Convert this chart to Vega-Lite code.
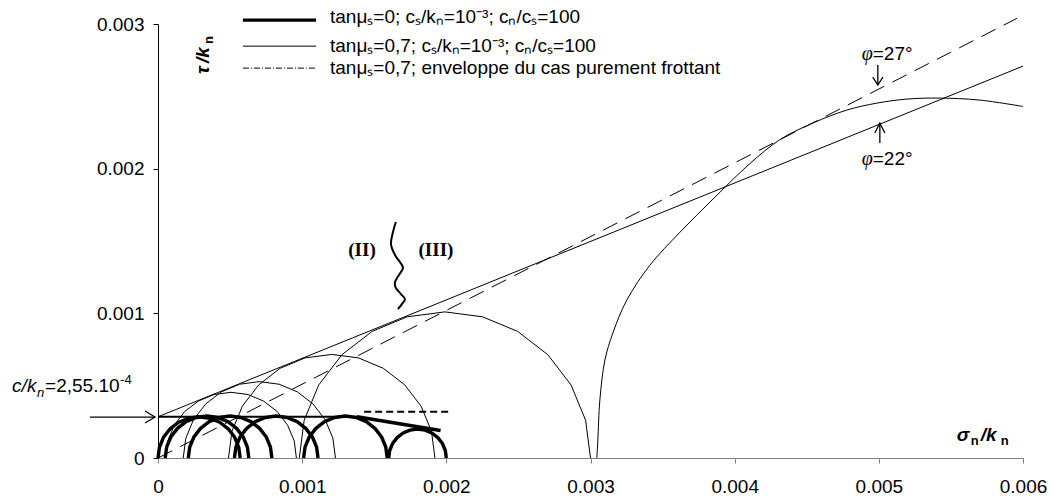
{
"$schema": "https://vega.github.io/schema/vega-lite/v6.json",
"width": 865, "height": 434,
"autosize": {"type": "none"},
"padding": {"left": 158, "top": 24, "right": 33, "bottom": 39},
"background": "white",
"config": {"view": {"stroke": null}, "font": "Liberation Sans",
  "axis": {"grid": false, "labelFont": "Liberation Sans", "labelFontSize": 19, "labelColor": "#000", "labelFlush": false, "labelOverlap": false}},
"datasets": {
"thick": [
{"s":"T1","i":0,"x":0,"y":0},{"s":"T1","i":1,"x":0.10e-4,"y":0.74e-4},{"s":"T1","i":2,"x":0.38e-4,"y":1.43e-4},{"s":"T1","i":3,"x":0.84e-4,"y":2.02e-4},{"s":"T1","i":4,"x":1.43e-4,"y":2.47e-4},{"s":"T1","i":5,"x":2.11e-4,"y":2.75e-4},{"s":"T1","i":6,"x":2.85e-4,"y":2.85e-4},{"s":"T1","i":7,"x":3.59e-4,"y":2.75e-4},{"s":"T1","i":8,"x":4.28e-4,"y":2.47e-4},{"s":"T1","i":9,"x":4.87e-4,"y":2.02e-4},{"s":"T1","i":10,"x":5.32e-4,"y":1.43e-4},{"s":"T1","i":11,"x":5.60e-4,"y":0.74e-4},{"s":"T1","i":12,"x":5.70e-4,"y":0},
{"s":"T2","i":0,"x":0.5e-4,"y":0},{"s":"T2","i":1,"x":0.60e-4,"y":0.75e-4},{"s":"T2","i":2,"x":0.89e-4,"y":1.45e-4},{"s":"T2","i":3,"x":1.35e-4,"y":2.05e-4},{"s":"T2","i":4,"x":1.95e-4,"y":2.51e-4},{"s":"T2","i":5,"x":2.65e-4,"y":2.80e-4},{"s":"T2","i":6,"x":3.4e-4,"y":2.9e-4},{"s":"T2","i":7,"x":4.15e-4,"y":2.80e-4},{"s":"T2","i":8,"x":4.85e-4,"y":2.51e-4},{"s":"T2","i":9,"x":5.45e-4,"y":2.05e-4},{"s":"T2","i":10,"x":5.91e-4,"y":1.45e-4},{"s":"T2","i":11,"x":6.20e-4,"y":0.75e-4},{"s":"T2","i":12,"x":6.3e-4,"y":0},
{"s":"T3","i":0,"x":2.1e-4,"y":0},{"s":"T3","i":1,"x":2.20e-4,"y":0.75e-4},{"s":"T3","i":2,"x":2.49e-4,"y":1.45e-4},{"s":"T3","i":3,"x":2.95e-4,"y":2.05e-4},{"s":"T3","i":4,"x":3.55e-4,"y":2.51e-4},{"s":"T3","i":5,"x":4.25e-4,"y":2.80e-4},{"s":"T3","i":6,"x":5.0e-4,"y":2.9e-4},{"s":"T3","i":7,"x":5.75e-4,"y":2.80e-4},{"s":"T3","i":8,"x":6.45e-4,"y":2.51e-4},{"s":"T3","i":9,"x":7.05e-4,"y":2.05e-4},{"s":"T3","i":10,"x":7.51e-4,"y":1.45e-4},{"s":"T3","i":11,"x":7.80e-4,"y":0.75e-4},{"s":"T3","i":12,"x":7.9e-4,"y":0},
{"s":"T4","i":0,"x":5.3e-4,"y":0},{"s":"T4","i":1,"x":5.40e-4,"y":0.75e-4},{"s":"T4","i":2,"x":5.69e-4,"y":1.45e-4},{"s":"T4","i":3,"x":6.15e-4,"y":2.05e-4},{"s":"T4","i":4,"x":6.75e-4,"y":2.51e-4},{"s":"T4","i":5,"x":7.45e-4,"y":2.80e-4},{"s":"T4","i":6,"x":8.2e-4,"y":2.9e-4},{"s":"T4","i":7,"x":8.95e-4,"y":2.80e-4},{"s":"T4","i":8,"x":9.65e-4,"y":2.51e-4},{"s":"T4","i":9,"x":10.25e-4,"y":2.05e-4},{"s":"T4","i":10,"x":10.71e-4,"y":1.45e-4},{"s":"T4","i":11,"x":11.00e-4,"y":0.75e-4},{"s":"T4","i":12,"x":11.1e-4,"y":0},
{"s":"T5","i":0,"x":10.1e-4,"y":0},{"s":"T5","i":1,"x":10.20e-4,"y":0.75e-4},{"s":"T5","i":2,"x":10.49e-4,"y":1.45e-4},{"s":"T5","i":3,"x":10.95e-4,"y":2.05e-4},{"s":"T5","i":4,"x":11.55e-4,"y":2.51e-4},{"s":"T5","i":5,"x":12.25e-4,"y":2.80e-4},{"s":"T5","i":6,"x":13.0e-4,"y":2.9e-4},{"s":"T5","i":7,"x":13.75e-4,"y":2.80e-4},{"s":"T5","i":8,"x":14.45e-4,"y":2.51e-4},{"s":"T5","i":9,"x":15.05e-4,"y":2.05e-4},{"s":"T5","i":10,"x":15.51e-4,"y":1.45e-4},{"s":"T5","i":11,"x":15.80e-4,"y":0.75e-4},{"s":"T5","i":12,"x":15.9e-4,"y":0},
{"s":"T6","i":0,"x":16.0e-4,"y":0},{"s":"T6","i":1,"x":16.07e-4,"y":0.52e-4},{"s":"T6","i":2,"x":16.27e-4,"y":1.0e-4},{"s":"T6","i":3,"x":16.59e-4,"y":1.41e-4},{"s":"T6","i":4,"x":17.0e-4,"y":1.73e-4},{"s":"T6","i":5,"x":17.48e-4,"y":1.93e-4},{"s":"T6","i":6,"x":18.0e-4,"y":2.0e-4},{"s":"T6","i":7,"x":18.52e-4,"y":1.93e-4},{"s":"T6","i":8,"x":19.0e-4,"y":1.73e-4},{"s":"T6","i":9,"x":19.41e-4,"y":1.41e-4},{"s":"T6","i":10,"x":19.73e-4,"y":1.0e-4},{"s":"T6","i":11,"x":19.93e-4,"y":0.52e-4},{"s":"T6","i":12,"x":20.0e-4,"y":0},
{"s":"E2","i":0,"x":13.8e-4,"y":2.85e-4},{"s":"E2","i":1,"x":19.6e-4,"y":1.9e-4},
{"s":"LG1","i":0,"x":5.89e-4,"y":30.27e-4},{"s":"LG1","i":1,"x":10.96e-4,"y":30.27e-4}
],
"med": [{"s":"E1","i":0,"x":0,"y":2.85e-4},{"s":"E1","i":1,"x":13.8e-4,"y":2.85e-4}],
"tdash": [{"s":"D1","i":0,"x":14.3e-4,"y":3.2e-4},{"s":"D1","i":1,"x":20.2e-4,"y":3.2e-4}],
"dash": [{"s":"L27","i":0,"x":0,"y":0},{"s":"L27","i":1,"x":59.6e-4,"y":30.4e-4}],
"ddot": [{"s":"LG3","i":0,"x":5.89e-4,"y":26.95e-4},{"s":"LG3","i":1,"x":10.96e-4,"y":26.95e-4}],
"thin": [
{"s":"A","i":0,"x":0.52e-4,"y":0},{"s":"A","i":1,"x":0.68e-4,"y":1.18e-4},{"s":"A","i":2,"x":1.13e-4,"y":2.27e-4},{"s":"A","i":3,"x":1.85e-4,"y":3.21e-4},{"s":"A","i":4,"x":2.79e-4,"y":3.93e-4},{"s":"A","i":5,"x":3.89e-4,"y":4.39e-4},{"s":"A","i":6,"x":5.06e-4,"y":4.54e-4},{"s":"A","i":7,"x":6.24e-4,"y":4.39e-4},{"s":"A","i":8,"x":7.33e-4,"y":3.93e-4},{"s":"A","i":9,"x":8.27e-4,"y":3.21e-4},{"s":"A","i":10,"x":8.99e-4,"y":2.27e-4},{"s":"A","i":11,"x":9.45e-4,"y":1.18e-4},{"s":"A","i":12,"x":9.60e-4,"y":0},
{"s":"B","i":0,"x":1.75e-4,"y":0},{"s":"B","i":1,"x":1.93e-4,"y":1.37e-4},{"s":"B","i":2,"x":2.46e-4,"y":2.64e-4},{"s":"B","i":3,"x":3.30e-4,"y":3.73e-4},{"s":"B","i":4,"x":4.39e-4,"y":4.57e-4},{"s":"B","i":5,"x":5.66e-4,"y":5.10e-4},{"s":"B","i":6,"x":7.03e-4,"y":5.28e-4},{"s":"B","i":7,"x":8.40e-4,"y":5.10e-4},{"s":"B","i":8,"x":9.67e-4,"y":4.57e-4},{"s":"B","i":9,"x":10.76e-4,"y":3.73e-4},{"s":"B","i":10,"x":11.60e-4,"y":2.64e-4},{"s":"B","i":11,"x":12.13e-4,"y":1.37e-4},{"s":"B","i":12,"x":12.31e-4,"y":0},
{"s":"C","i":0,"x":4.89e-4,"y":0},{"s":"C","i":1,"x":5.13e-4,"y":1.85e-4},{"s":"C","i":2,"x":5.85e-4,"y":3.58e-4},{"s":"C","i":3,"x":6.99e-4,"y":5.06e-4},{"s":"C","i":4,"x":8.47e-4,"y":6.20e-4},{"s":"C","i":5,"x":10.20e-4,"y":6.92e-4},{"s":"C","i":6,"x":12.05e-4,"y":7.16e-4},{"s":"C","i":7,"x":13.90e-4,"y":6.92e-4},{"s":"C","i":8,"x":15.63e-4,"y":6.20e-4},{"s":"C","i":9,"x":17.11e-4,"y":5.06e-4},{"s":"C","i":10,"x":18.25e-4,"y":3.58e-4},{"s":"C","i":11,"x":18.97e-4,"y":1.85e-4},{"s":"C","i":12,"x":19.21e-4,"y":0},
{"s":"D","i":0,"x":9.8e-4,"y":0},{"s":"D","i":1,"x":10.14e-4,"y":2.61e-4},{"s":"D","i":2,"x":11.15e-4,"y":5.05e-4},{"s":"D","i":3,"x":12.76e-4,"y":7.14e-4},{"s":"D","i":4,"x":14.85e-4,"y":8.75e-4},{"s":"D","i":5,"x":17.29e-4,"y":9.76e-4},{"s":"D","i":6,"x":19.9e-4,"y":10.1e-4},{"s":"D","i":7,"x":22.51e-4,"y":9.76e-4},{"s":"D","i":8,"x":24.95e-4,"y":8.75e-4},{"s":"D","i":9,"x":27.04e-4,"y":7.14e-4},{"s":"D","i":10,"x":28.65e-4,"y":5.05e-4},{"s":"D","i":11,"x":29.66e-4,"y":2.61e-4},{"s":"D","i":12,"x":30.0e-4,"y":0},
{"s":"L22","i":0,"x":0,"y":2.85e-4},{"s":"L22","i":1,"x":60.0e-4,"y":27.09e-4},
{"s":"LG2","i":0,"x":5.89e-4,"y":28.47e-4},{"s":"LG2","i":1,"x":10.96e-4,"y":28.47e-4}
],
"huge": [
{"s":"H","i":0,"x":30.44e-4,"y":0},{"s":"H","i":1,"x":30.51e-4,"y":1.24e-4},{"s":"H","i":2,"x":30.65e-4,"y":4.01e-4},{"s":"H","i":3,"x":31.0e-4,"y":6.77e-4},{"s":"H","i":4,"x":31.55e-4,"y":8.64e-4},{"s":"H","i":5,"x":32.52e-4,"y":10.92e-4},{"s":"H","i":6,"x":34.1e-4,"y":13.3e-4},{"s":"H","i":7,"x":36.2e-4,"y":15.6e-4},{"s":"H","i":8,"x":38.5e-4,"y":17.9e-4},{"s":"H","i":9,"x":41.0e-4,"y":20.3e-4},{"s":"H","i":10,"x":43.13e-4,"y":22.0e-4},{"s":"H","i":11,"x":45.42e-4,"y":23.15e-4},{"s":"H","i":12,"x":47.78e-4,"y":24.05e-4},{"s":"H","i":13,"x":49.86e-4,"y":24.53e-4},{"s":"H","i":14,"x":51.94e-4,"y":24.81e-4},{"s":"H","i":15,"x":54.23e-4,"y":24.88e-4},{"s":"H","i":16,"x":57.0e-4,"y":24.74e-4},{"s":"H","i":17,"x":60.0e-4,"y":24.3e-4}
],
"arrows": [
{"s":"A1","i":0,"x":-4.72e-4,"y":2.83e-4},{"s":"A1","i":1,"x":-0.21e-4,"y":2.83e-4},
{"s":"A1h","i":0,"x":-0.90e-4,"y":3.25e-4},{"s":"A1h","i":1,"x":-0.21e-4,"y":2.83e-4},{"s":"A1h","i":2,"x":-0.90e-4,"y":2.42e-4},
{"s":"A2","i":0,"x":49.93e-4,"y":27.16e-4},{"s":"A2","i":1,"x":49.93e-4,"y":25.78e-4},
{"s":"A2h","i":0,"x":49.58e-4,"y":26.33e-4},{"s":"A2h","i":1,"x":49.93e-4,"y":25.78e-4},{"s":"A2h","i":2,"x":50.28e-4,"y":26.33e-4},
{"s":"A3","i":0,"x":50.07e-4,"y":21.77e-4},{"s":"A3","i":1,"x":50.07e-4,"y":23.15e-4},
{"s":"A3h","i":0,"x":49.72e-4,"y":22.46e-4},{"s":"A3h","i":1,"x":50.07e-4,"y":23.15e-4},{"s":"A3h","i":2,"x":50.42e-4,"y":22.46e-4}
],
"sq": [
{"s":"S","i":0,"x":16.50e-4,"y":16.31e-4},{"s":"S","i":1,"x":16.30e-4,"y":15.62e-4},{"s":"S","i":2,"x":16.16e-4,"y":14.79e-4},{"s":"S","i":3,"x":16.44e-4,"y":14.03e-4},{"s":"S","i":4,"x":16.78e-4,"y":13.55e-4},{"s":"S","i":5,"x":16.99e-4,"y":13.13e-4},{"s":"S","i":6,"x":16.71e-4,"y":12.65e-4},{"s":"S","i":7,"x":16.44e-4,"y":12.16e-4},{"s":"S","i":8,"x":16.50e-4,"y":11.75e-4},{"s":"S","i":9,"x":16.85e-4,"y":11.33e-4},{"s":"S","i":10,"x":17.13e-4,"y":10.99e-4},{"s":"S","i":11,"x":16.92e-4,"y":10.64e-4},{"s":"S","i":12,"x":16.64e-4,"y":10.30e-4}
]
},
"encoding": {
  "x": {"field": "x", "type": "quantitative", "scale": {"domain": [0, 0.006], "nice": false, "zero": false},
    "axis": {"values": [0, 0.001, 0.002, 0.003, 0.004, 0.005, 0.006], "format": ".3~f", "title": null, "domainColor": "#808080", "tickColor": "#808080", "tickSize": 5, "labelPadding": 14}},
  "y": {"field": "y", "type": "quantitative", "scale": {"domain": [0, 0.003], "nice": false, "zero": false},
    "axis": {"values": [0, 0.001, 0.002, 0.003], "format": ".3~f", "title": null, "domainColor": "#000", "tickColor": "#000", "tickSize": 5, "labelPadding": 9}}
},
"layer": [
{"data": {"name": "thin"}, "mark": {"type": "line", "color": "#000", "strokeWidth": 1, "clip": true}, "encoding": {"detail": {"field": "s"}, "order": {"field": "i"}}},
{"data": {"name": "huge"}, "mark": {"type": "line", "color": "#000", "strokeWidth": 1, "clip": true, "interpolate": "catmull-rom"}, "encoding": {"detail": {"field": "s"}, "order": {"field": "i"}}},
{"data": {"name": "dash"}, "mark": {"type": "line", "color": "#000", "strokeWidth": 1, "strokeDash": [16, 9]}, "encoding": {"detail": {"field": "s"}, "order": {"field": "i"}}},
{"data": {"name": "ddot"}, "mark": {"type": "line", "color": "#000", "strokeWidth": 1, "strokeDash": [6, 2, 1, 2]}, "encoding": {"detail": {"field": "s"}, "order": {"field": "i"}}},
{"data": {"name": "med"}, "mark": {"type": "line", "color": "#000", "strokeWidth": 2}, "encoding": {"detail": {"field": "s"}, "order": {"field": "i"}}},
{"data": {"name": "tdash"}, "mark": {"type": "line", "color": "#000", "strokeWidth": 2, "strokeDash": [7, 4]}, "encoding": {"detail": {"field": "s"}, "order": {"field": "i"}}},
{"data": {"name": "thick"}, "mark": {"type": "line", "color": "#000", "strokeWidth": 3.4, "strokeJoin": "round"}, "encoding": {"detail": {"field": "s"}, "order": {"field": "i"}}},
{"data": {"name": "arrows"}, "mark": {"type": "line", "color": "#000", "strokeWidth": 1.3}, "encoding": {"detail": {"field": "s"}, "order": {"field": "i"}}},
{"data": {"name": "sq"}, "mark": {"type": "line", "color": "#000", "strokeWidth": 2, "interpolate": "cardinal"}, "encoding": {"detail": {"field": "s"}, "order": {"field": "i"}}},
{"data": {"values": [
  {"x": 11.93e-4, "y": 30.48e-4, "t": "tanμₛ=0; cₛ/kₙ=10⁻³; cₙ/cₛ=100"},
  {"x": 11.93e-4, "y": 28.47e-4, "t": "tanμₛ=0,7; cₛ/kₙ=10⁻³; cₙ/cₛ=100"},
  {"x": 11.93e-4, "y": 26.95e-4, "t": "tanμₛ=0,7; enveloppe du cas purement frottant"}]},
 "mark": {"type": "text", "align": "left", "baseline": "middle", "fontSize": 19, "color": "#000"}, "encoding": {"text": {"field": "t"}}},
{"data": {"values": [{"x": -10.12e-4, "y": 4.56e-4, "t": "c/k"}]}, "mark": {"type": "text", "align": "left", "baseline": "alphabetic", "fontSize": 19, "fontStyle": "italic", "color": "#000"}, "encoding": {"text": {"field": "t"}}},
{"data": {"values": [{"x": -10.12e-4, "y": 4.56e-4, "t": "n"}]}, "mark": {"type": "text", "align": "left", "baseline": "alphabetic", "fontSize": 13, "fontStyle": "italic", "dx": 25, "dy": 5, "color": "#000"}, "encoding": {"text": {"field": "t"}}},
{"data": {"values": [{"x": -10.12e-4, "y": 4.56e-4, "t": "=2,55.10"}]}, "mark": {"type": "text", "align": "left", "baseline": "alphabetic", "fontSize": 19, "dx": 33, "color": "#000"}, "encoding": {"text": {"field": "t"}}},
{"data": {"values": [{"x": -10.12e-4, "y": 4.56e-4, "t": "-4"}]}, "mark": {"type": "text", "align": "left", "baseline": "alphabetic", "fontSize": 13, "dx": 108, "dy": -8, "color": "#000"}, "encoding": {"text": {"field": "t"}}},
{"data": {"values": [{"x": 3.54e-4, "y": 26.54e-4, "t": "τ"}]}, "mark": {"type": "text", "align": "left", "baseline": "alphabetic", "angle": 270, "fontSize": 19, "fontWeight": "bold", "fontStyle": "italic", "color": "#000"}, "encoding": {"text": {"field": "t"}}},
{"data": {"values": [{"x": 3.54e-4, "y": 26.54e-4, "t": "/k"}]}, "mark": {"type": "text", "align": "left", "baseline": "alphabetic", "angle": 270, "fontSize": 19, "fontWeight": "bold", "fontStyle": "italic", "dx": 11, "color": "#000"}, "encoding": {"text": {"field": "t"}}},
{"data": {"values": [{"x": 3.54e-4, "y": 26.54e-4, "t": "n"}]}, "mark": {"type": "text", "align": "left", "baseline": "alphabetic", "angle": 270, "fontSize": 13, "fontWeight": "bold", "dx": 30, "dy": 4, "color": "#000"}, "encoding": {"text": {"field": "t"}}},
{"data": {"values": [{"x": 55.41e-4, "y": 1.17e-4, "t": "σ"}]}, "mark": {"type": "text", "align": "left", "baseline": "alphabetic", "fontSize": 19, "fontWeight": "bold", "fontStyle": "italic", "color": "#000"}, "encoding": {"text": {"field": "t"}}},
{"data": {"values": [{"x": 55.41e-4, "y": 1.17e-4, "t": "n"}]}, "mark": {"type": "text", "align": "left", "baseline": "alphabetic", "fontSize": 13, "fontWeight": "bold", "dx": 14, "dy": 4, "color": "#000"}, "encoding": {"text": {"field": "t"}}},
{"data": {"values": [{"x": 55.41e-4, "y": 1.17e-4, "t": "/k"}]}, "mark": {"type": "text", "align": "left", "baseline": "alphabetic", "fontSize": 19, "fontWeight": "bold", "fontStyle": "italic", "dx": 24, "color": "#000"}, "encoding": {"text": {"field": "t"}}},
{"data": {"values": [{"x": 55.41e-4, "y": 1.17e-4, "t": "n"}]}, "mark": {"type": "text", "align": "left", "baseline": "alphabetic", "fontSize": 13, "fontWeight": "bold", "dx": 44, "dy": 4, "color": "#000"}, "encoding": {"text": {"field": "t"}}},
{"data": {"values": [{"x": 49.58e-4, "y": 27.5e-4, "t": "φ"}, {"x": 49.58e-4, "y": 20.25e-4, "t": "φ"}]}, "mark": {"type": "text", "align": "right", "baseline": "alphabetic", "fontSize": 20, "font": "Liberation Serif", "fontStyle": "italic", "color": "#000"}, "encoding": {"text": {"field": "t"}}},
{"data": {"values": [{"x": 49.58e-4, "y": 27.5e-4, "t": "=27°"}, {"x": 49.58e-4, "y": 20.25e-4, "t": "=22°"}]}, "mark": {"type": "text", "align": "left", "baseline": "alphabetic", "fontSize": 19, "color": "#000"}, "encoding": {"text": {"field": "t"}}},
{"data": {"values": [{"x": 14.15e-4, "y": 14.37e-4, "t": "(II)"}, {"x": 19.28e-4, "y": 14.37e-4, "t": "(III)"}]}, "mark": {"type": "text", "align": "center", "baseline": "middle", "fontSize": 19, "font": "Liberation Serif", "fontWeight": "bold", "color": "#000"}, "encoding": {"text": {"field": "t"}}}
]
}
